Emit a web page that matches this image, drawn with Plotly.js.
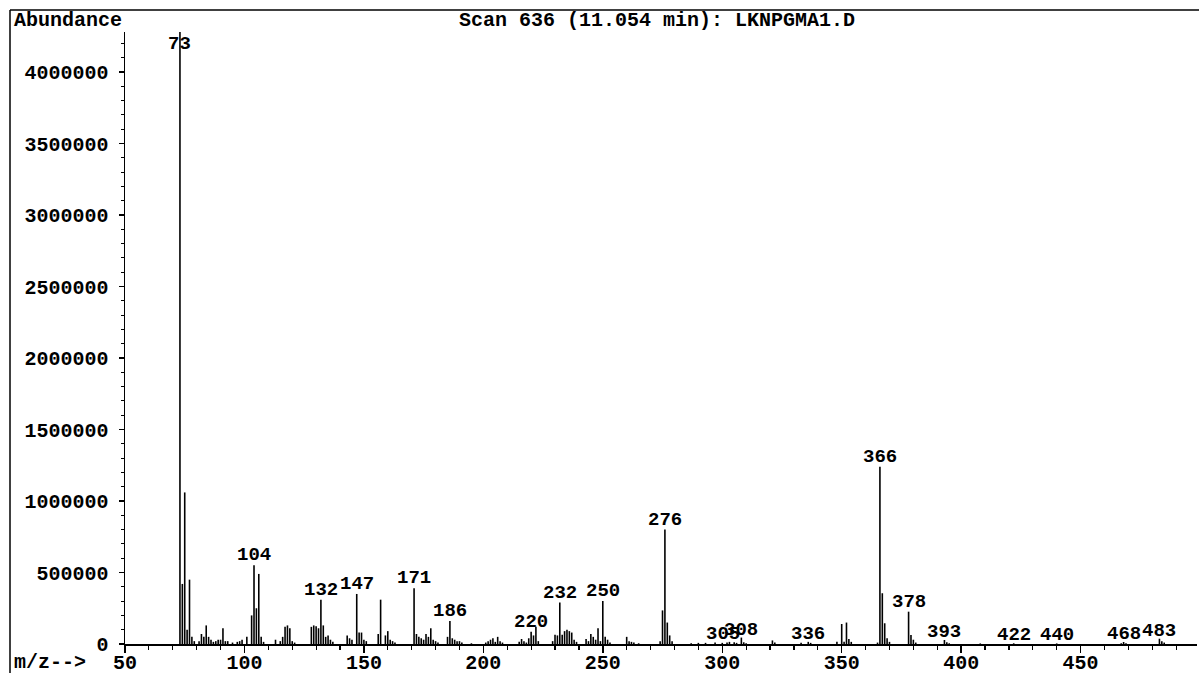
<!DOCTYPE html>
<html>
<head>
<meta charset="utf-8">
<script src="https://cdn.plot.ly/plotly-3.0.1.min.js"></script>
<style>html,body{margin:0;padding:0;background:#fff;}#chart{width:1199px;height:673px;}</style>
</head>
<body>
<div id="chart"></div>
<script>
// ---- Data (m/z and abundance) ----
const mz = [73,74,75,76,77,78,79,81,82,83,84,85,86,87,88,89,90,91,92,93,95,97,98,99,101,
  103,104,105,106,107,108,113,115,116,117,118,119,120,121,
  128,129,130,131,132,133,134,135,136,137,143,144,145,147,148,149,150,151,
  156,157,159,160,161,162,163,171,172,173,174,175,176,177,178,179,180,181,
  185,186,187,188,189,190,191,195,201,202,203,204,205,206,207,208,
  215,216,217,218,219,220,221,222,223,229,230,231,232,233,234,235,236,237,238,239,
  243,244,245,246,247,248,249,250,251,252,253,260,261,262,263,265,
  274,275,276,277,278,279,287,290,293,297,300,302,303,305,306,308,309,310,
  321,322,333,336,337,348,350,351,352,353,354,365,366,367,368,369,370,
  378,379,380,381,393,394,395,408,422,440,467,468,469,483,484,485];
const abundance = [4280000,420000,1060000,100000,450000,50000,20000,20000,70000,50000,130000,50000,30000,15000,20000,30000,30000,110000,20000,20000,10000,15000,20000,30000,50000,
  200000,550000,250000,490000,50000,15000,30000,20000,50000,120000,130000,110000,20000,10000,
  120000,130000,125000,110000,310000,130000,50000,60000,30000,15000,60000,40000,30000,350000,80000,80000,30000,20000,
  70000,310000,60000,90000,30000,20000,10000,390000,70000,50000,40000,30000,70000,50000,110000,30000,20000,10000,
  50000,160000,40000,30000,20000,20000,10000,5000,10000,20000,30000,40000,15000,50000,20000,10000,
  15000,35000,20000,10000,40000,85000,60000,120000,20000,20000,65000,60000,290000,65000,90000,100000,90000,80000,30000,15000,
  35000,20000,70000,50000,30000,110000,20000,300000,50000,30000,10000,50000,20000,15000,10000,5000,
  20000,235000,800000,150000,60000,20000,5000,8000,8000,10000,8000,10000,15000,12000,8000,45000,12000,5000,
  25000,10000,8000,15000,8000,15000,140000,15000,150000,35000,15000,10000,1240000,355000,145000,40000,15000,
  226000,63000,30000,10000,28000,12000,5000,4000,5000,4000,5000,14000,6000,37000,20000,10000];
// Which peaks carry an m/z label
const labelMz = [73,104,132,147,171,186,220,232,250,276,305,308,336,366,378,393,422,440,468,483];

const titleText = 'Scan 636 (11.054 min): LKNPGMA1.D';
const yLabelText = 'Abundance';
const xLabelText = 'm/z-->';

// ---- Layout geometry ----
const W = 1199, H = 673;
const M = {l:125, r:2, t:32, b:29};
const PW = W - M.l - M.r, PH = H - M.t - M.b;
const px2x = px => (px - M.l) / PW;
const py2y = py => (H - M.b - py) / PH;

// Build stick spectrum
const xs = [], ys = [];
mz.forEach((m, i) => { xs.push(m, m, null); ys.push(0, abundance[i], null); });

const font = {family: 'Liberation Mono, DejaVu Sans Mono, monospace', color: '#000', weight: 'bold'};
const f = s => Object.assign({}, font, {size: s});

const ann = [];
labelMz.forEach(m => {
  const idx = mz.indexOf(m);
  const v = abundance[idx];
  if (m === 73) {
    ann.push({x: m, y: v, xref: 'x', yref: 'y', text: String(m), showarrow: false,
      xanchor: 'center', yanchor: 'top', yshift: 1, font: f(19)});
  } else {
    ann.push({x: m, y: v, xref: 'x', yref: 'y', text: String(m), showarrow: false,
      xanchor: 'center', yanchor: 'bottom', yshift: (v < 50000 ? -5 : -3), xshift: (m === 305 ? -11 : 0), font: f(19)});
  }
});
ann.push({x: px2x(12), y: py2y(20), xref: 'paper', yref: 'paper', text: yLabelText, showarrow: false,
  xanchor: 'left', yanchor: 'middle', font: f(20)});
ann.push({x: px2x(12), y: py2y(663), xref: 'paper', yref: 'paper', text: xLabelText, showarrow: false,
  xanchor: 'left', yanchor: 'middle', font: f(20)});
ann.push({x: px2x(657), y: py2y(20), xref: 'paper', yref: 'paper', text: titleText, showarrow: false,
  xanchor: 'center', yanchor: 'middle', font: f(20)});

const shapes = [
  {type: 'line', xref: 'paper', yref: 'paper', x0: px2x(10), x1: px2x(1199), y0: py2y(10), y1: py2y(10),
   line: {color: '#000', width: 1.5}},
  {type: 'line', xref: 'paper', yref: 'paper', x0: px2x(10), x1: px2x(10), y0: py2y(10), y1: py2y(673),
   line: {color: '#000', width: 1.5}}
];

const data = [{
  type: 'scatter', mode: 'lines', x: xs, y: ys, connectgaps: false,
  line: {color: '#000', width: 1.6}, hoverinfo: 'skip'
}];

const layout = {
  width: W, height: H, margin: M, showlegend: false,
  paper_bgcolor: '#fff', plot_bgcolor: '#fff',
  xaxis: {range: [50, 50 + PW / 2.389], tick0: 50, dtick: 50, ticks: 'outside', ticklen: 7, tickwidth: 1.5,
    tickcolor: '#000', showline: true, linecolor: '#000', linewidth: 1.5, showgrid: false, zeroline: false,
    tickfont: f(20), ticklabelstandoff: -8,
    minor: {dtick: 10, tick0: 50, ticks: 'outside', ticklen: 4, tickwidth: 1.2, tickcolor: '#000', showgrid: false}},
  yaxis: {range: [0, 4280000], tick0: 0, dtick: 500000, tickformat: 'd', ticks: 'outside', ticklen: 5, tickwidth: 1.5,
    tickcolor: '#000', showline: true, linecolor: '#000', linewidth: 1.5, showgrid: false, zeroline: false,
    tickfont: f(20), ticklabelstandoff: 6,
    minor: {dtick: 100000, ticks: 'outside', ticklen: 3, tickwidth: 1, tickcolor: '#000', showgrid: false}},
  annotations: ann, shapes: shapes
};

Plotly.newPlot('chart', data, layout, {displayModeBar: false, staticPlot: true});
</script>
</body>
</html>
